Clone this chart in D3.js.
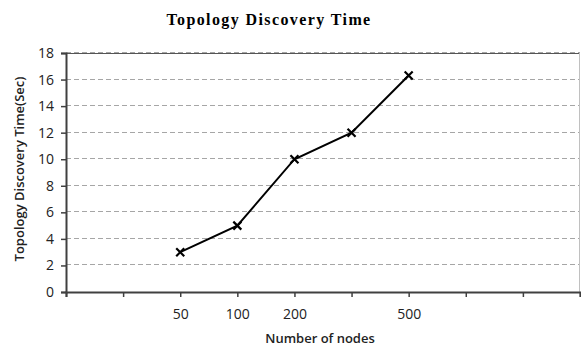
<!DOCTYPE html>
<html>
<head>
<meta charset="utf-8">
<script src="https://cdn.jsdelivr.net/npm/d3@7"></script>
<style>
  body { margin: 0; background: #fff; }
  svg { display: block; }
</style>
</head>
<body>
<div class="chart"></div>
<script>
(function(){

  // category slots along the x axis (only some are labelled)
  var nodeLabels = ['', '', '50', '100', '200', '', '500', '', '', ''];
  // discovery time in seconds, null where nothing is plotted
  var discoveryTime = [null, null, 3, 5, 10, 12, 16.3, null, null, null];
  var yTicks = [0, 2, 4, 6, 8, 10, 12, 14, 16, 18];

  var width = 581,
    height = 348;

  var plot = { left: 66, right: 580, top: 53, bottom: 292 };
  var labelFont = '"Open Sans", Lato, sans-serif';

  var svg = d3.select('.chart')
    .append('svg')
    .attr('width', width)
    .attr('height', height);

  var x = d3.scalePoint()
    .domain(d3.range(nodeLabels.length))
    .range([plot.left, plot.right]);

  var y = d3.scaleLinear()
    .domain([0, 18])
    .range([plot.bottom, plot.top]);

  // gridlines
  svg.append('g')
    .selectAll('line')
    .data(yTicks.filter(function(d){ return d > 0; }))
    .enter().append('line')
    .attr('x1', plot.left)
    .attr('x2', plot.right)
    .attr('y1', function(d){ return Math.round(y(d)) - 0.5; })
    .attr('y2', function(d){ return Math.round(y(d)) - 0.5; })
    .attr('stroke', '#a6a6a6')
    .attr('stroke-width', 1)
    .attr('stroke-dasharray', '5,3');

  // plot area border (top dark, right light)
  svg.append('line')
    .attr('x1', plot.left).attr('x2', plot.right)
    .attr('y1', plot.top + 0.5).attr('y2', plot.top + 0.5)
    .attr('stroke', '#555').attr('stroke-width', 1);
  svg.append('line')
    .attr('x1', plot.right - 0.5).attr('x2', plot.right - 0.5)
    .attr('y1', plot.top).attr('y2', plot.bottom)
    .attr('stroke', '#c0c0c0').attr('stroke-width', 1);

  // axes
  var yAxis = svg.append('g')
    .attr('transform', 'translate(' + plot.left + ',0)')
    .call(d3.axisLeft(y).tickValues(yTicks).tickSize(5).tickPadding(7));

  var xAxis = svg.append('g')
    .attr('transform', 'translate(0,' + plot.bottom + ')')
    .call(d3.axisBottom(x).tickSize(5).tickPadding(12)
      .tickFormat(function(i){ return nodeLabels[i]; }));

  [yAxis, xAxis].forEach(function(ax){
    ax.select('.domain').attr('stroke', '#404040').attr('stroke-width', 2);
    ax.selectAll('.tick line').attr('stroke', '#404040').attr('stroke-width', 1.5);
    ax.selectAll('.tick text')
      .attr('fill', '#222')
      .style('font-family', labelFont)
      .style('font-size', '14px');
  });

  // series line
  var pts = discoveryTime.map(function(v, i){ return { i: i, v: v }; })
    .filter(function(d){ return d.v !== null; });

  var line = d3.line()
    .x(function(d){ return x(d.i); })
    .y(function(d){ return y(d.v); });

  svg.append('path')
    .datum(pts)
    .attr('d', line)
    .attr('fill', 'none')
    .attr('stroke', '#000')
    .attr('stroke-width', 2);

  // X markers
  var m = 4;
  svg.append('g').selectAll('path')
    .data(pts)
    .enter().append('path')
    .attr('d', function(d){
      var cx = x(d.i), cy = y(d.v);
      return 'M' + (cx - m) + ',' + (cy - m) + 'L' + (cx + m) + ',' + (cy + m) +
        'M' + (cx - m) + ',' + (cy + m) + 'L' + (cx + m) + ',' + (cy - m);
    })
    .attr('stroke', '#000')
    .attr('stroke-width', 2.2);

  // titles
  svg.append('text')
    .attr('x', 269)
    .attr('y', 25)
    .attr('text-anchor', 'middle')
    .style('font-family', '"Liberation Serif", "DejaVu Serif", serif')
    .style('font-weight', 'bold')
    .style('font-size', '16px')
    .style('letter-spacing', '1.4px')
    .text('Topology Discovery Time');

  svg.append('text')
    .attr('transform', 'translate(24,169) rotate(-90)')
    .attr('text-anchor', 'middle')
    .style('font-family', labelFont)
    .style('font-weight', '600')
    .style('font-size', '13px')
    .attr('fill', '#222')
    .text('Topology Discovery Time(Sec)');

  svg.append('text')
    .attr('x', 320)
    .attr('y', 343)
    .attr('text-anchor', 'middle')
    .style('font-family', labelFont)
    .style('font-weight', '600')
    .style('font-size', '13px')
    .attr('fill', '#222')
    .text('Number of nodes');

}());
</script>
</body>
</html>
